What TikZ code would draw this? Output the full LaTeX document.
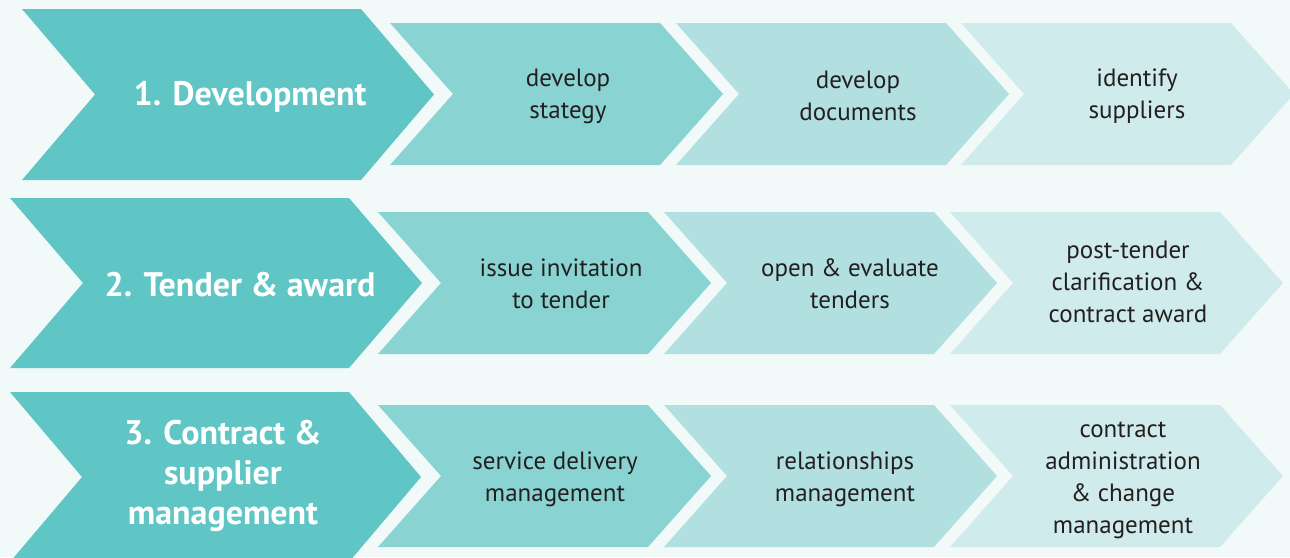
\documentclass[tikz,border=0pt]{standalone}
\usepackage{fontspec}
\setmainfont{PT Sans}
\usepackage{tikz}
\usetikzlibrary{positioning, calc}

\definecolor{bgcol}{HTML}{F2F9F9}
\definecolor{stagecol}{HTML}{5FC5C5}
\definecolor{stepone}{HTML}{8AD3D3}
\definecolor{steptwo}{HTML}{B2DFE0}
\definecolor{stepthree}{HTML}{D0EBEC}
\definecolor{inkcol}{HTML}{231F20}

% chevron: left, top, width, height, point depth, colour
\newcommand{\chevron}[6]{%
  \fill[#6] (#1,#2) -- ({#1+#3},#2) -- ({#1+#3+#5},{#2+#4/2})
    -- ({#1+#3},{#2+#4}) -- (#1,{#2+#4}) -- ({#1+#5},{#2+#4/2}) -- cycle;}

\tikzset{
  stagelabel/.style={text=white, align=center, font=\bfseries\fontsize{34}{40}\selectfont},
  steplabel/.style={text=inkcol, align=center, font=\fontsize{25}{32}\selectfont}
}

\begin{document}
\begin{tikzpicture}[x=1pt, y=-1pt]
% Background
\fill[bgcol] (0,0) rectangle (1290,557);
\useasboundingbox (0,0) rectangle (1290,557);

% Stage chevrons
\chevron{22}{9}{339}{171}{73}{stagecol}
\chevron{10}{198}{339}{170}{73}{stagecol}
\chevron{10}{392}{339}{170}{72}{stagecol}

% Step chevrons, row by row
\foreach \x/\c in {390/stepone, 676/steptwo, 961/stepthree}
  \chevron{\x}{23}{270}{142}{63}{\c};
\foreach \x/\c in {378/stepone, 664/steptwo, 950/stepthree} {
  \chevron{\x}{212}{270}{142}{63}{\c};
  \chevron{\x}{405}{270}{142}{63}{\c};
}

% Stage labels
\node[stagelabel] (dev) at (250,97) {1. Development};
\node[stagelabel] (tender) at (240,285) {2. Tender \& award};
\node[stagelabel] (contract) at (223,476) {3. Contract \&\\supplier\\management};

% Step labels
\node[steplabel] (strat) at (568,96) {develop\\stategy};
\node[steplabel] (docs) at (858,96) {develop\\documents};
\node[steplabel] (supp) at (1137,96) {identify\\suppliers};

\node[steplabel] (invite) at (561,284) {issue invitation\\to tender};
\node[steplabel] (evaluate) at (850,284) {open \& evaluate\\tenders};
\node[steplabel] (award) at (1128,282) {post-tender\\clarification \&\\contract award};

\node[steplabel] (delivery) at (555,479) {service delivery\\management};
\node[steplabel] (relation) at (845,479) {relationships\\management};
\node[steplabel] (admin) at (1123,480) {contract\\administration\\\& change\\management};
\end{tikzpicture}
\end{document}
